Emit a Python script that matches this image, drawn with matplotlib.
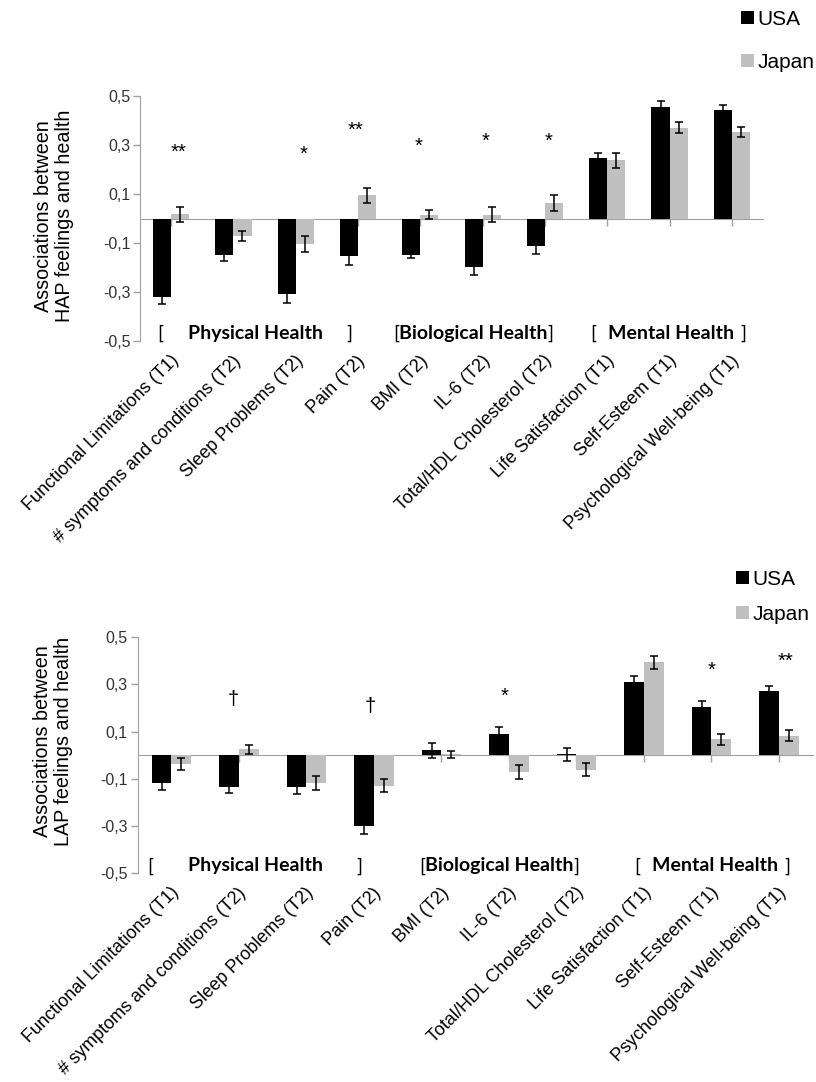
import matplotlib
matplotlib.use("Agg")
import matplotlib.pyplot as plt
import numpy as np
from matplotlib.transforms import blended_transform_factory

# ---- data -------------------------------------------------------------
categories = [
    "Functional Limitations (T1)",
    "# symptoms and conditions (T2)",
    "Sleep Problems (T2)",
    "Pain (T2)",
    "BMI (T2)",
    "IL-6 (T2)",
    "Total/HDL Cholesterol (T2)",
    "Life Satisfaction (T1)",
    "Self-Esteem (T1)",
    "Psychological Well-being (T1)",
]
series_names = ["USA", "Japan"]

# high-arousal positive (HAP) feelings
usa_hap = [-0.32, -0.15, -0.31, -0.155, -0.147, -0.198, -0.113, 0.248, 0.455, 0.444]
usa_hap_err = [0.027, 0.023, 0.034, 0.033, 0.014, 0.034, 0.033, 0.02, 0.023, 0.02]
jpn_hap = [0.017, -0.07, -0.103, 0.094, 0.016, 0.016, 0.064, 0.237, 0.371, 0.354]
jpn_hap_err = [0.03, 0.02, 0.033, 0.031, 0.017, 0.032, 0.033, 0.032, 0.024, 0.02]
hap_marks = {0: "**", 2: "*", 3: "**", 4: "*", 5: "*", 6: "*"}

# low-arousal positive (LAP) feelings
usa_lap = [-0.119, -0.134, -0.136, -0.302, 0.02, 0.09, 0.003, 0.311, 0.205, 0.274]
usa_lap_err = [0.028, 0.027, 0.03, 0.033, 0.03, 0.028, 0.028, 0.023, 0.023, 0.021]
jpn_lap = [-0.038, 0.024, -0.119, -0.129, 0.004, -0.07, -0.062, 0.394, 0.068, 0.082]
jpn_lap_err = [0.024, 0.018, 0.03, 0.028, 0.015, 0.03, 0.028, 0.027, 0.023, 0.023]
lap_marks = {1: "\u2020", 3: "\u2020", 5: "*", 8: "*", 9: "**"}

yticks = [0.5, 0.3, 0.1, -0.1, -0.3, -0.5]
ytick_labels = ["0,5", "0,3", "0,1", "-0,1", "-0,3", "-0,5"]
group_names = ["Physical Health", "Biological Health", "Mental Health"]

# ---- style ------------------------------------------------------------
USA_COLOR = "#000000"
JPN_COLOR = "#c0c0c0"
AXIS_COLOR = "#a0a0a0"
SANS = ["Liberation Sans", "DejaVu Sans"]
BOLD = ["Lato", "DejaVu Sans"]
plt.rcParams["font.family"] = SANS

fig = plt.figure(figsize=(8.16, 10.82), dpi=100)


def panel(rect, usa, usa_err, jpn, jpn_err, marks, mark_pos, ylabel,
          group_pos, legend_pos, legend_spacing):
    ax = fig.add_axes(rect)
    x = np.arange(len(categories))
    w = 0.29
    ekw = dict(ecolor="black", elinewidth=1.1, capsize=3.2, capthick=1.1)
    ax.bar(x - w / 2, usa, w, color=USA_COLOR, label=series_names[0],
           yerr=usa_err, error_kw=ekw, zorder=2)
    ax.bar(x + w / 2, jpn, w, color=JPN_COLOR, label=series_names[1],
           yerr=jpn_err, error_kw=ekw, zorder=2)

    ax.set_xlim(-0.5, len(categories) - 0.5)
    ax.set_ylim(-0.5, 0.5)
    ax.set_yticks(yticks)
    ax.set_yticklabels(ytick_labels, fontsize=11.5, color="#333333")
    ax.tick_params(axis="y", direction="out", length=5, width=1,
                   color=AXIS_COLOR, pad=2)

    for s in ("top", "right"):
        ax.spines[s].set_visible(False)
    ax.spines["left"].set_color(AXIS_COLOR)
    ax.spines["bottom"].set_color(AXIS_COLOR)
    ax.spines["bottom"].set_position(("data", 0))
    ax.spines["bottom"].set_zorder(1)
    ax.set_xticks(x)
    ax.set_xticklabels([])
    ax.tick_params(axis="x", direction="out", length=5, width=1,
                   color=AXIS_COLOR)

    # category names below the plot, rotated 45 degrees
    tr = blended_transform_factory(ax.transData, ax.transAxes)
    for i, name in enumerate(categories):
        ax.annotate(name, xy=(i - 0.02, 0), xycoords=tr,
                    xytext=(0, -8), textcoords="offset points",
                    rotation=45, rotation_mode="anchor",
                    ha="right", va="top", fontsize=13, color="black")

    # significance marks
    for i, m in marks.items():
        dx, yy = mark_pos[i]
        ax.text(i + dx, yy, m, ha="center", va="center", fontsize=14.5,
                color="black")

    # domain labels
    gy = -0.47
    fs = 14
    (b1, t1, b2), t2, (b3, t3, b4) = group_pos
    ax.text(b1, gy, "[", ha="center", va="center", fontsize=fs, family=BOLD)
    ax.text(t1, gy, group_names[0], ha="center", va="center", fontsize=fs,
            weight="bold", family=BOLD)
    ax.text(b2, gy, "]", ha="center", va="center", fontsize=fs, family=BOLD)
    bio = ax.text(t2, gy, group_names[1], ha="center", va="center",
                  fontsize=fs, weight="bold", family=BOLD)
    ax.text(b3, gy, "[", ha="center", va="center", fontsize=fs, family=BOLD)
    ax.text(t3, gy, group_names[2], ha="center", va="center", fontsize=fs,
            weight="bold", family=BOLD)
    ax.text(b4, gy, "]", ha="center", va="center", fontsize=fs, family=BOLD)
    fig.canvas.draw()
    bb = bio.get_window_extent().transformed(ax.transData.inverted())
    ax.text(bb.x0, gy, "[", ha="right", va="center", fontsize=fs, family=BOLD)
    ax.text(bb.x1, gy, "]", ha="left", va="center", fontsize=fs, family=BOLD)

    # y label
    fig.text(ylabel[1], ylabel[2], ylabel[0], rotation=90, ha="center",
             va="center", multialignment="center", fontsize=14.2,
             linespacing=1.15)

    ax.legend(loc="upper left", bbox_to_anchor=legend_pos,
              bbox_transform=fig.transFigure, frameon=False, fontsize=15,
              handlelength=0.6, handleheight=0.6, handletextpad=0.2,
              labelspacing=legend_spacing, borderaxespad=0, borderpad=0)
    return ax


panel([140 / 816, 1 - 341 / 1082, 623 / 816, 245 / 1082],
      usa_hap, usa_hap_err, jpn_hap, jpn_hap_err, hap_marks,
      {0: (0.11, 0.272), 2: (0.13, 0.262), 3: (-0.04, 0.36),
       4: (-0.03, 0.296), 5: (0.05, 0.315), 6: (0.05, 0.315)},
      ("Associations between\nHAP feelings and health", 54 / 816,
       1 - 216 / 1082),
      ((-0.18, 1.35, 2.855), 4.85, (6.77, 8.03, 9.18)),
      (741 / 816, 1 - 10 / 1082), 1.15)

panel([137.7 / 816, 1 - 873 / 1082, 675 / 816, 235.7 / 1082],
      usa_lap, usa_lap_err, jpn_lap, jpn_lap_err, lap_marks,
      {1: (-0.09, 0.235), 3: (-0.06, 0.206), 5: (-0.06, 0.248),
       8: (0.0, 0.36), 9: (0.1, 0.397)},
      ("Associations between\nLAP feelings and health", 53 / 816,
       1 - 741 / 1082),
      ((-0.32, 1.245, 2.79), 4.86, (6.9, 8.05, 9.12)),
      (736 / 816, 1 - 570 / 1082), 0.75)

fig.savefig("out.png", dpi=100, facecolor="white")
